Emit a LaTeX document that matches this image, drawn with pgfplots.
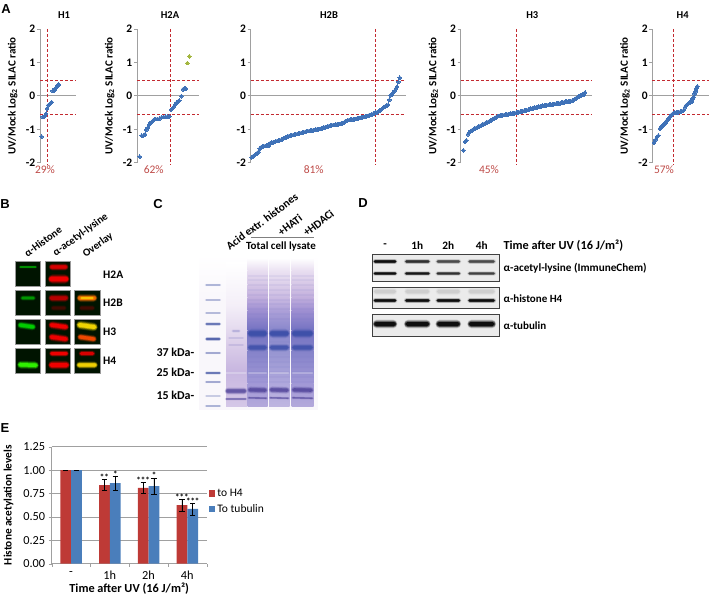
\documentclass[border=0pt]{standalone}
\usepackage{pgfplots}
\pgfplotsset{compat=1.18}
\usepackage{fontspec}
\setmainfont{Carlito}
\newfontfamily\letterfont{Liberation Sans}
\definecolor{ptblue}{HTML}{3F72B8}
\definecolor{ptgreen}{HTML}{A3B63E}
\definecolor{dashred}{HTML}{C32A30}
\definecolor{pctred}{HTML}{BE4B48}
\definecolor{axgray}{HTML}{A0A0A0}
\definecolor{barred}{HTML}{BE3A36}
\definecolor{barblue}{HTML}{4A7EBB}
\newcommand{\fs}[1]{\fontsize{#1}{#1}\selectfont}
\pgfplotsset{
  panelA/.style={
    scale only axis, ymin=-2, ymax=2, ytick={-2,-1,0,1,2}, height=133.7pt,
    hide x axis, axis y line*=left, clip=false,
    axis line style={axgray,line width=0.9pt},
    ytick style={axgray,line width=0.7pt}, tick align=outside, major tick length=3pt,
    /pgf/number format/assume math mode=true,
    yticklabel style={font=\bfseries\fs{11.5}, inner sep=1.5pt},
    ylabel style={font=\bfseries\fs{11}, yshift=3.5pt},
  },
  ptser/.style={only marks, mark=*, color=ptblue, mark size=1.9pt, mark options={solid,fill=ptblue,draw=ptblue,line width=0pt}},
  zeroln/.style={axgray, line width=0.9pt, forget plot},
  reddash/.style={dashred, line width=0.7pt, densely dashed, forget plot},
}
\newcommand{\dashes}[3]{%
  \addplot[zeroln] coordinates {(#1,0) (#2,0)};
  \addplot[reddash] coordinates {(#1,0.47) (#2,0.47)};
  \addplot[reddash] coordinates {(#1,-0.54) (#2,-0.54)};
  \addplot[reddash] coordinates {(#3,2) (#3,-2.05)};
}
\newcommand{\band}[7]{%
  \begin{scope}[shift={(#1,#2)},rotate=#7]
  \foreach \s/\o in {1.6/0.15,1.3/0.25,1/0.5,0.7/0.8}{%
    \pgfmathsetmacro{\hw}{#3/2+(\s-1)*1.6}
    \pgfmathsetmacro{\hh}{#4*\s/2}
    \pgfmathsetmacro{\op}{\o*#6}
    \fill[#5,opacity=\op,rounded corners=\hh pt] (-\hw,-\hh) rectangle (\hw,\hh);
  }
  \end{scope}}
\newcommand{\lane}[3]{% x0 x1 strength
  \shade[top color=white, bottom color=lane1!#3!white] (#1,258) rectangle (#2,270);
  \shade[top color=lane1!#3!white, bottom color=lane2!#3!white] (#1,270) rectangle (#2,284);
  \shade[top color=lane2!#3!white, bottom color=lane3!#3!white] (#1,284) rectangle (#2,297);
  \shade[top color=lane3!#3!white, bottom color=lane4!#3!white] (#1,297) rectangle (#2,310);
  \shade[top color=lane4!#3!white, bottom color=lane5!#3!white] (#1,310) rectangle (#2,330);
  \shade[top color=lane5!#3!white, bottom color=lane6!#3!white] (#1,330) rectangle (#2,350);
  \shade[top color=lane6!#3!white, bottom color=lane7!#3!white] (#1,350) rectangle (#2,383);
  \shade[top color=lane7!#3!white, bottom color=lane8!#3!white] (#1,383) rectangle (#2,406);
  \foreach \yy in {275,279,284,289,294,299,303,308,313,318,336,341,346,356,361,366,371,376,381}{%
    \fill[lane5,opacity=0.09] (#1,\yy) rectangle (#2,\yy+1.5);}
}
\definecolor{lane1}{HTML}{E9DFF1}
\definecolor{lane2}{HTML}{D6C7E6}
\definecolor{lane3}{HTML}{C2AFDD}
\definecolor{lane4}{HTML}{9F90D2}
\definecolor{lane5}{HTML}{7472C2}
\definecolor{lane6}{HTML}{8482C9}
\definecolor{lane7}{HTML}{A198D6}
\definecolor{lane8}{HTML}{B3A8DB}
\definecolor{gelband}{HTML}{3B4EA8}
\definecolor{gelmark}{HTML}{4A5BA8}
\begin{document}
\begin{tikzpicture}
\path[use as bounding box] (0pt,0pt) rectangle (709pt,-596pt);

% ---------- A
\begin{axis}[panelA, at={(40pt,-162.7pt)}, anchor=south west, width=36pt, xmin=120, xmax=228,
  ylabel={UV/Mock Log\textsubscript{2} SILAC ratio}]
\dashes{120}{228}{141}
\addplot[ptser] coordinates {(125,-1.22)(128,-0.63)(132,-0.62)(135,-0.60)(138,-0.54)(141,-0.38)(145,-0.28)(149,-0.25)(152,-0.22)(155,-0.19)(158,0.15)(161,0.16)(164,0.18)(167,0.23)(170,0.26)(173,0.30)(176,0.34)};
\end{axis}
\begin{axis}[panelA, at={(137pt,-162.7pt)}, anchor=south west, width=62pt, xmin=411, xmax=597,
  ylabel={UV/Mock Log\textsubscript{2} SILAC ratio}]
\dashes{411}{597}{510}
\addplot[ptser] coordinates {(419,-1.82)(425,-1.19)(431,-1.18)(435,-1.15)(439,-1.02)(443,-0.96)(447,-0.87)(451,-0.81)(455,-0.78)(459,-0.74)(463,-0.71)(467,-0.69)(473,-0.69)(479,-0.68)(485,-0.64)(491,-0.63)(497,-0.62)(503,-0.62)(508,-0.61)(514,-0.41)(518,-0.37)(522,-0.32)(526,-0.26)(530,-0.20)(534,-0.17)(538,-0.14)(544,-0.01)(549,0.20)(553,0.21)(557,0.22)};
\addplot[only marks, mark=*, color=ptgreen, mark size=1.9pt, mark options={solid,fill=ptgreen,draw=ptgreen,line width=0pt}] coordinates {(562,0.98)(568,1.18)};
\end{axis}
\begin{axis}[panelA, at={(250.7pt,-162.7pt)}, anchor=south west, width=155pt, xmin=62, xmax=527]
\dashes{62}{527}{436}
\addplot[ptser] coordinates {(65,-1.84)(69,-1.81)(73,-1.78)(77,-1.75)(81,-1.72)(85,-1.68)(89,-1.58)(93,-1.54)(97,-1.52)(101,-1.51)(105,-1.50)(109,-1.49)(113,-1.49)(117,-1.48)(121,-1.41)(125,-1.40)(129,-1.39)(133,-1.38)(137,-1.36)(141,-1.35)(145,-1.34)(149,-1.33)(153,-1.32)(157,-1.30)(161,-1.26)(165,-1.25)(169,-1.24)(173,-1.22)(177,-1.20)(181,-1.19)(185,-1.18)(189,-1.17)(193,-1.16)(197,-1.15)(201,-1.14)(205,-1.13)(209,-1.12)(213,-1.11)(217,-1.10)(221,-1.09)(225,-1.08)(229,-1.06)(233,-1.05)(237,-1.05)(241,-1.04)(245,-1.03)(249,-1.03)(253,-1.02)(257,-1.01)(261,-1.00)(265,-1.00)(269,-0.99)(273,-0.98)(277,-0.97)(281,-0.95)(285,-0.94)(289,-0.93)(293,-0.92)(297,-0.90)(301,-0.89)(305,-0.88)(309,-0.87)(313,-0.87)(317,-0.86)(321,-0.85)(325,-0.85)(329,-0.84)(333,-0.83)(337,-0.82)(341,-0.81)(345,-0.77)(349,-0.75)(353,-0.73)(357,-0.72)(361,-0.71)(365,-0.71)(369,-0.70)(373,-0.70)(377,-0.69)(381,-0.68)(385,-0.67)(389,-0.66)(393,-0.65)(397,-0.64)(401,-0.63)(405,-0.62)(409,-0.61)(413,-0.60)(417,-0.58)(421,-0.57)(425,-0.56)(429,-0.54)(433,-0.53)(437,-0.51)(441,-0.49)(445,-0.47)(449,-0.44)(453,-0.42)(457,-0.38)(461,-0.34)(465,-0.32)(470,-0.29)(474,-0.27)(478,-0.12)(482,0.02)(486,0.05)(490,0.10)(494,0.15)(498,0.22)(501,0.27)(505,0.42)(509,0.54)};
\end{axis}
\begin{axis}[panelA, at={(460.7pt,-162.7pt)}, anchor=south west, width=131pt, xmin=692, xmax=1085,
  ylabel={UV/Mock Log\textsubscript{2} SILAC ratio}]
\dashes{692}{1085}{858}
\addplot[ptser] coordinates {(700,-1.63)(705,-1.37)(709,-1.33)(714,-1.15)(718,-1.10)(722,-1.05)(726,-1.03)(730,-1.01)(734,-0.98)(738,-0.96)(742,-0.94)(746,-0.92)(750,-0.90)(754,-0.88)(758,-0.86)(762,-0.84)(766,-0.82)(770,-0.80)(774,-0.78)(778,-0.76)(782,-0.74)(786,-0.72)(790,-0.69)(794,-0.66)(798,-0.64)(802,-0.62)(806,-0.60)(810,-0.59)(814,-0.585)(818,-0.58)(822,-0.57)(826,-0.565)(830,-0.56)(834,-0.55)(838,-0.545)(842,-0.54)(846,-0.53)(850,-0.525)(854,-0.52)(858,-0.51)(862,-0.50)(866,-0.49)(870,-0.48)(874,-0.47)(878,-0.46)(882,-0.45)(886,-0.44)(890,-0.43)(894,-0.42)(898,-0.41)(902,-0.39)(906,-0.38)(910,-0.37)(914,-0.36)(918,-0.35)(922,-0.34)(926,-0.33)(930,-0.32)(934,-0.31)(938,-0.30)(942,-0.295)(946,-0.29)(950,-0.28)(954,-0.275)(958,-0.27)(962,-0.265)(966,-0.26)(970,-0.25)(974,-0.245)(978,-0.24)(982,-0.235)(986,-0.23)(990,-0.22)(994,-0.21)(998,-0.20)(1002,-0.19)(1006,-0.18)(1010,-0.175)(1014,-0.17)(1018,-0.165)(1022,-0.16)(1026,-0.15)(1030,-0.13)(1034,-0.10)(1038,-0.07)(1042,-0.05)(1046,-0.02)(1050,0)(1054,0.02)(1058,0.04)(1062,0.05)(1065,0.10)};
\end{axis}
\begin{axis}[panelA, at={(652.3pt,-162.7pt)}, anchor=south west, width=56.4pt, xmin=547, xmax=716,
  ylabel={UV/Mock Log\textsubscript{2} SILAC ratio}]
\dashes{547}{716}{611}
\addplot[ptser] coordinates {(552,-1.40)(556,-1.32)(561,-1.23)(565,-1.19)(570,-0.98)(573,-0.95)(576,-0.93)(580,-0.87)(583,-0.84)(586,-0.81)(589,-0.76)(592,-0.73)(595,-0.69)(598,-0.65)(601,-0.61)(604,-0.57)(607,-0.55)(610,-0.52)(614,-0.51)(618,-0.50)(622,-0.50)(626,-0.49)(630,-0.48)(635,-0.46)(640,-0.44)(645,-0.34)(648,-0.29)(651,-0.27)(655,-0.23)(658,-0.21)(661,-0.20)(665,-0.17)(668,-0.09)(671,-0.04)(674,0.06)(676,0.12)(678,0.18)(680,0.23)(682,0.28)};
\end{axis}

% ---------- E
\begin{axis}[at={(51.7pt,-563.7pt)}, anchor=south west, scale only axis, width=155pt, height=117pt,
  ybar=0pt, bar width=10.8pt, xmin=-0.5, xmax=3.5, ymin=0, ymax=1.25,
  ytick={0,0.25,0.5,0.75,1,1.25}, ymajorgrids, grid style={axgray,line width=0.7pt},
  xtick={0,1,2,3}, xticklabels={-,1h,2h,4h}, major x tick style={draw=none},
  minor xtick={-0.5,0.5,1.5,2.5,3.5}, minor tick length=3pt, major tick length=3pt,
  tick align=outside, axis x line*=bottom, axis y line*=left,
  axis line style={axgray,line width=0.8pt}, ytick style={axgray}, minor x tick style={axgray},
  /pgf/number format/assume math mode=true, /pgf/number format/fixed, /pgf/number format/fixed zerofill, /pgf/number format/precision=2,
  tick label style={font=\fs{12.3}},
  xticklabel style={yshift=-1pt},
  ylabel={Histone acetylation levels}, ylabel style={font=\bfseries\fs{11.3},yshift=3pt},
  xlabel={Time after UV (16 J/m²)}, xlabel style={font=\bfseries\fs{12.3},yshift=4pt},
  legend cell align=left,
  legend style={draw=none,fill=none,at={(1.0,0.53)},anchor=west,font=\fs{11.5},row sep=2pt,inner sep=2pt},
  legend image code/.code={\fill[#1,draw=none] (0pt,-3pt) rectangle (6.5pt,3.5pt);},
  clip=false, axis on top=false]
\addplot[fill=barred,draw=none,error bars/.cd,y dir=both,y explicit,error bar style={black,line width=0.7pt},error mark options={black,mark size=2.6pt,rotate=90}]
  coordinates {(0,1)+-(0,0) (1,0.84)+-(0,0.06) (2,0.81)+-(0,0.06) (3,0.625)+-(0,0.06)};
\addplot[fill=barblue,draw=none,error bars/.cd,y dir=both,y explicit,error bar style={black,line width=0.7pt},error mark options={black,mark size=2.6pt,rotate=90}]
  coordinates {(0,1)+-(0,0) (1,0.86)+-(0,0.08) (2,0.83)+-(0,0.085) (3,0.585)+-(0,0.065)};
\legend{to H4,To tubulin}
\node[font=\bfseries\fs{9}] at (axis cs:0.86,0.925) {**};
\node[font=\bfseries\fs{9}] at (axis cs:1.14,0.96) {*};
\node[font=\bfseries\fs{9}] at (axis cs:1.86,0.89) {***};
\node[font=\bfseries\fs{9}] at (axis cs:2.14,0.94) {*};
\node[font=\bfseries\fs{9}] at (axis cs:2.86,0.705) {***};
\node[font=\bfseries\fs{9}] at (axis cs:3.14,0.67) {***};
\end{axis}

\begin{scope}[x=1pt,y=-1pt]
% letters
\foreach \t/\xx/\yy in {A/6/9,B/5/204,C/158/204,D/363/203,E/5/428}{%
  \node[font=\letterfont\bfseries\fs{13},inner sep=0pt] at (\xx,\yy) {\t};}
% A titles and pct
\foreach \t/\xx in {H1/64,H2A/170,H2B/329,H3/532.3,H4/682.7}{%
  \node[font=\bfseries\fs{10.5},inner sep=0pt] at (\xx,15) {\t};}
\foreach \t/\xx in {29/45,62/153.7,81/313.7,45/489,57/664}{%
  \node[font=\fs{11.5},text=pctred,inner sep=0pt] at (\xx,169.5) {\t\%};}

% ---------- B
\foreach \cx/\ww in {15/25.7,45/25.7}{%
  \foreach \yy in {261.3,290.3,319,348}{%
    \fill[black!92!green,draw=gray!80,line width=0.8pt] (\cx,\yy) rectangle ++(\ww,25.4);}}
\foreach \yy in {290.3,319,348}{%
    \fill[black!92!green,draw=gray!80,line width=0.8pt] (74.3,\yy) rectangle ++(25.7,25.4);}
\band{28}{267}{17}{1.8}{green!65!black}{1}{0}
\band{58.7}{267}{18}{4.5}{red!90!black}{1}{0}
\band{58.7}{279}{20}{6}{red}{1}{0}
\band{28}{298}{14}{3.2}{green!65!black}{0.9}{0}
\band{58.7}{298}{19}{5}{red!80!black}{0.9}{0}
\band{58.7}{308}{15}{4}{red!60!black}{0.3}{0}
\band{87}{298}{19}{5}{orange!90!red}{1}{0}
\band{87}{298}{13}{2}{yellow!80!orange}{0.8}{0}
\band{87}{308}{15}{4}{red!60!black}{0.3}{0}
\band{26.7}{326}{17}{4.5}{green!85!black}{1}{-8}
\band{58.7}{326}{19}{5}{red}{1}{-8}
\band{58.7}{338}{19}{5}{red}{1}{-8}
\band{87}{326}{20}{5.5}{yellow!85!orange}{1}{-8}
\band{87}{338}{18}{4.5}{orange!60!red}{1}{-8}
\band{28}{365}{20}{5}{green!80!yellow}{1}{-2}
\band{59}{353.5}{18}{4}{red}{1}{0}
\band{59}{365}{20}{5.5}{red}{1}{0}
\band{87}{353.5}{15}{3.6}{red!90!black}{1}{0}
\band{87}{365}{20}{4.5}{yellow!80!orange}{1}{0}
\node[font=\bfseries\fs{10.7},rotate=36,inner sep=0pt] at (43,241.5) {α-Histone};
\node[font=\bfseries\fs{10.7},rotate=36,inner sep=0pt] at (80.5,235) {α-acetyl-lysine};
\node[font=\bfseries\fs{10.7},rotate=36,inner sep=0pt] at (98,245) {Overlay};
\foreach \t/\yy in {H2A/274.3,H2B/303,H3/332,H4/360.7}{%
  \node[font=\bfseries\fs{11.5},inner sep=0pt,anchor=west] at (103,\yy) {\t};}

% ---------- C
\shade[top color=white,bottom color=lane1!25!white] (199,255) rectangle (318,300);
\fill[lane1!25!white] (199,300) rectangle (318,410);
% acid-extract lane
\shade[top color=white,bottom color=lane1!50!white] (226,262) rectangle (247,305);
\shade[top color=lane1!50!white,bottom color=lane2!90!white] (226,305) rectangle (247,345);
\shade[top color=lane2!90!white,bottom color=lane3!90!white] (226,345) rectangle (247,370);
\shade[top color=lane3!90!white,bottom color=lane3!70!white] (226,370) rectangle (247,406);
\lane{247.5}{267.5}{100}
\lane{269}{289.5}{85}
\lane{291.5}{313.5}{100}
% strong bands
\foreach \xa/\xb in {247.5/267.5,269/289.5,291.5/313.5}{%
  \pgfmathsetmacro{\cxx}{(\xa+\xb)/2}\pgfmathsetmacro{\wxx}{\xb-\xa-1}
  \band{\cxx}{333.5}{\wxx}{6}{gelband}{1}{0}
  \band{\cxx}{347.5}{\wxx}{5}{gelband}{0.8}{0}
  \band{\cxx}{390}{\wxx}{4.5}{gelband!85!purple}{0.8}{-1.5}
  \band{\cxx}{398}{\wxx}{1.6}{gelband!85!purple}{0.6}{-1.5}
  \band{\cxx}{373}{\wxx}{1.2}{white}{0.3}{0}
}
\band{236}{391}{21}{4.5}{gelband!85!purple}{0.75}{0}
\band{236}{399}{21}{1.6}{gelband!85!purple}{0.55}{0}
\band{236}{373}{21}{1.2}{white}{0.3}{0}
\band{236}{331}{8}{2}{lane5}{0.3}{0}
\band{236}{338}{15}{1.2}{lane5}{0.2}{0}
\band{236}{345}{15}{1.2}{lane5}{0.2}{0}
% marker lane
\foreach \yy/\op/\hh in {285/0.5/1.3,300/0.45/1.2,313/0.45/1.2,324/0.9/2,339/0.95/2.4,353/0.6/1.4,373/0.9/1.9,382/0.6/1.4,396/0.3/1.2,406/0.5/1.2}{%
  \band{213}{\yy}{15}{\hh}{gelmark}{\op}{0}}
% labels
\node[font=\bfseries\fs{11.3},rotate=37,inner sep=0pt] at (262,221.5) {Acid extr. histones};
\node[font=\bfseries\fs{11.3},rotate=37,inner sep=0pt] at (290,225) {+HATi};
\node[font=\bfseries\fs{11.3},rotate=37,inner sep=0pt] at (318.5,223) {+HDACi};
\draw[gray,line width=0.8pt] (250.7,237.7) -- (314,237.7);
\node[font=\bfseries\fs{11},inner sep=0pt] at (281,246.7) {Total cell lysate};
\foreach \t/\yy in {37/352.7,25/372.7,15/395}{%
  \node[font=\bfseries\fs{12},inner sep=0pt,anchor=east] at (194.5,\yy) {\t\ kDa-};}

% ---------- D
\foreach \ya/\yb in {254.7/281.3,287.3/308.7,314.7/336}{%
  \fill[black!8] (372,\ya) rectangle (499,\yb);}
\foreach \xx/\ww/\op/\opp in {385/23/1/1,417.3/25/0.7/0.9,448.3/24/0.55/0.7,481.7/27/0.55/0.6}{%
  \band{\xx}{261.5}{\ww}{3}{black}{\op}{0}
  \band{\xx}{273.5}{\ww}{2.6}{black}{\opp}{0}
  \band{\xx}{291.5}{\ww}{5}{black}{0.07}{0}
  \band{\xx}{300.5}{\ww}{3}{black}{1}{0}
  \band{\xx}{324}{\ww}{5.5}{black}{1}{0}
}
\foreach \ya/\yb in {254.7/281.3,287.3/308.7,314.7/336}{%
  \draw[black!75,line width=1pt] (372,\ya) rectangle (499,\yb);}
\foreach \t/\xx in {-/385,1h/417.3,2h/448.3,4h/481.7}{%
  \node[font=\bfseries\fs{11.3},inner sep=0pt] at (\xx,245.3) {\t};}
\node[font=\bfseries\fs{12.3},inner sep=0pt,anchor=west] at (503.3,245.3) {Time after UV (16 J/m²)};
\node[font=\bfseries\fs{11.2},inner sep=0pt,anchor=west] at (503.3,268.5) {α-acetyl-lysine (ImmuneChem)};
\node[font=\bfseries\fs{11},inner sep=0pt,anchor=west] at (503.3,298.5) {α-histone H4};
\node[font=\bfseries\fs{11},inner sep=0pt,anchor=west] at (503.3,325.5) {α-tubulin};
\end{scope}
\end{tikzpicture}
\end{document}
